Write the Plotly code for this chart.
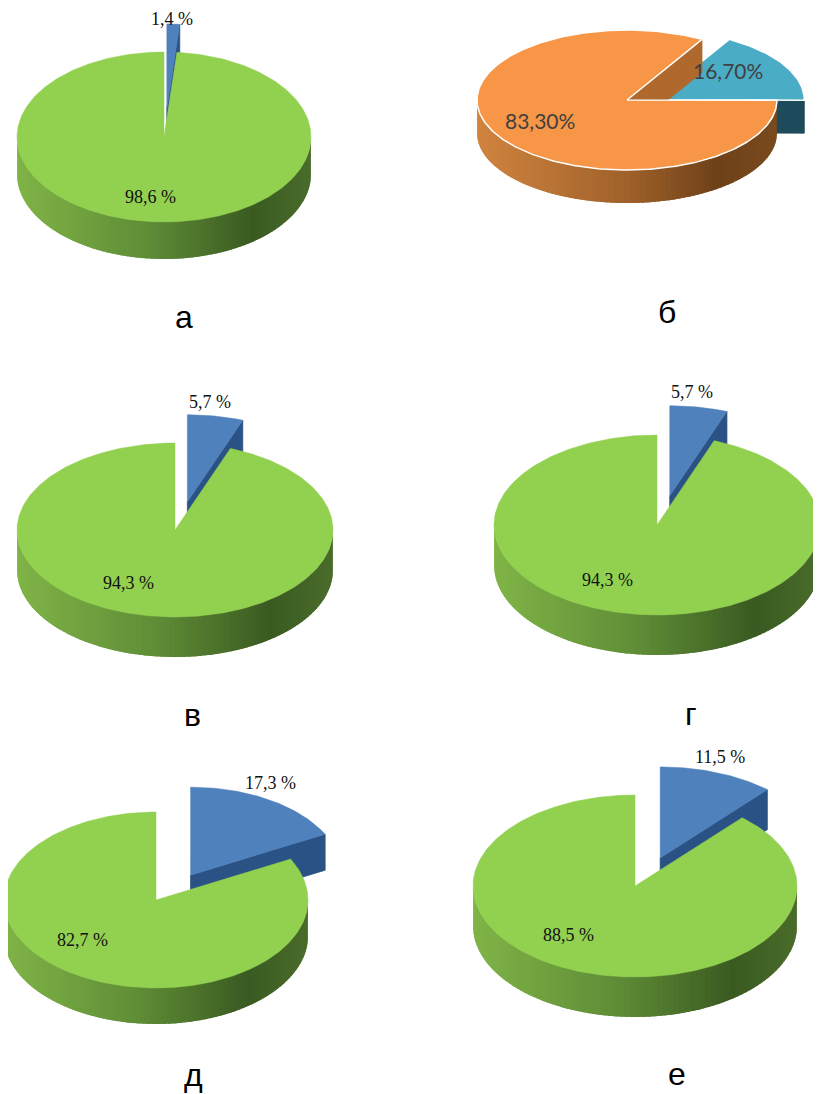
import numpy as np
import plotly.graph_objects as go

# Data: share of the small (exploded) and large slice for every panel
PANELS = ['а', 'б', 'в', 'г', 'д', 'е']
SMALL_SHARE = [1.4, 16.7, 5.7, 5.7, 17.3, 11.5]
LARGE_SHARE = [98.6, 83.3, 94.3, 94.3, 82.7, 88.5]

# Geometry of each 3D pie in page pixels (layout only)
GEOM = {
    'а': dict(cx=164, cy=137, rx=147, ry=85, depth=37, pull=(0.44, 0.33), start=0,
              small_lbl=(8, -118), large_lbl=(-14, 60), caption=(184, 317)),
    'б': dict(cx=627, cy=100, rx=150, ry=70, depth=33, pull=(0.21, 0.0), start=30,
              small_lbl=(101, -30), large_lbl=(-87, 20), caption=(667, 312)),
    'в': dict(cx=175, cy=530, rx=158, ry=87, depth=40, pull=(0.44, 0.33), start=0,
              small_lbl=(35, -128), large_lbl=(-47, 53), caption=(192, 715)),
    'г': dict(cx=657, cy=525, rx=163, ry=90, depth=40, pull=(0.44, 0.33), start=0,
              small_lbl=(35, -133), large_lbl=(-50, 55), caption=(691, 714)),
    'д': dict(cx=156, cy=900, rx=152, ry=88, depth=36, pull=(0.44, 0.33), start=0,
              small_lbl=(114, -117), large_lbl=(-74, 40), caption=(193, 1075)),
    'е': dict(cx=635, cy=886, rx=162, ry=91, depth=40, pull=(0.44, 0.33), start=0,
              small_lbl=(85, -129), large_lbl=(-67, 49), caption=(677, 1074)),
}

GREEN = dict(top='#92D050', face='#4E7A2C', outline=None,
             side=[(0.0, '#80B447'), (0.45, '#5E8C36'), (0.8, '#3A5A21'), (1.0, '#4A6C2B')])
BLUE = dict(top='#4F81BD', face='#2A5285', outline=None,
            side=[(0.0, '#3E6A9E'), (0.6, '#2B4F7C'), (1.0, '#243F65')])
ORANGE = dict(top='#F79646', face='#B0692C', outline='white',
              side=[(0.0, '#D0843F'), (0.5, '#A0612A'), (0.8, '#6E4119'), (1.0, '#7A4A1E')])
TEAL = dict(top='#4BACC6', face='#1E4B5B', outline='white',
            side=[(0.0, '#2F7A8E'), (1.0, '#1E4B5B')])

# the page body has an 8px margin, so the figure starts at (8, 8) in the window
PAGE_OFF = 8
WIN_W, WIN_H = 821, 1094


def hex_rgb(c):
    c = c.lstrip('#')
    return [int(c[i:i + 2], 16) for i in (0, 2, 4)]


def grad(stops, t):
    ts = [s[0] for s in stops]
    cols = np.array([hex_rgb(s[1]) for s in stops])
    rgb = [int(round(np.interp(t, ts, cols[:, k]))) for k in range(3)]
    return 'rgb(%d,%d,%d)' % tuple(rgb)


def rim(g, ang, dx, dy):
    a = np.radians(ang)
    return g['cx'] + dx + g['rx'] * np.sin(a), g['cy'] + dy - g['ry'] * np.cos(a)


def add_poly(fig, xs, ys, color, line_color=None, lw=0):
    fig.add_trace(go.Scatter(
        x=list(xs) + [xs[0]], y=list(ys) + [ys[0]], fill='toself', fillcolor=color,
        mode='lines', line=dict(color=line_color or color, width=lw),
        hoverinfo='skip', showlegend=False))


def draw_slice(fig, g, a0, a1, pull, style):
    m = np.radians((a0 + a1) / 2)
    dx = pull[0] * g['rx'] * np.sin(m)
    dy = -pull[1] * g['ry'] * np.cos(m)
    ax, ay = g['cx'] + dx, g['cy'] + dy
    d = g['depth']

    # outer wall, only the part facing the viewer (90..270 deg)
    for n in range(-1, 3):
        s, e = max(a0, 90 + 360 * n), min(a1, 270 + 360 * n)
        if e <= s:
            continue
        steps = max(2, int((e - s) / 2.0))
        ts = np.linspace(s, e, steps + 1)
        step = ts[1] - ts[0]
        for t0, t1 in zip(ts[:-1], ts[1:]):
            # overlap into the next strip so no seams show
            t1x = min(t1 + step * 0.8, e)
            x0, y0 = rim(g, t0, dx, dy)
            x1, y1 = rim(g, t1x, dx, dy)
            xm, _ = rim(g, (t0 + t1) / 2, dx, dy)
            frac = (xm - (g['cx'] - g['rx'])) / (2 * g['rx'])
            col = grad(style['side'], frac)
            add_poly(fig, [x0, x1, x1, x0], [y0 - 0.5, y1 - 0.5, y1 + d, y0 + d], col)

    # radial cut faces that turn towards the viewer
    for ang, visible in ((a0, np.sin(np.radians(a0)) < -1e-6), (a1, np.sin(np.radians(a1)) > 1e-6)):
        if visible:
            rx_, ry_ = rim(g, ang, dx, dy)
            add_poly(fig, [ax, rx_, rx_, ax], [ay, ry_, ry_ + d, ay + d], style['face'], lw=0.8)

    # top face
    ts = np.linspace(a0, a1, int(a1 - a0) + 2)
    xs, ys = rim(g, ts, dx, dy)
    if style['outline']:
        add_poly(fig, [ax] + list(xs), [ay] + list(ys), style['top'], style['outline'], 1.5)
    else:
        add_poly(fig, [ax] + list(xs), [ay] + list(ys), style['top'], lw=0.5)


fig = go.Figure()
annotations = []

for i, p in enumerate(PANELS):
    g = GEOM[p]
    small, large = SMALL_SHARE[i], LARGE_SHARE[i]
    total = small + large
    a_mid = g['start'] + 360 * small / total
    a_end = g['start'] + 360
    if p == 'б':
        s_style, l_style = TEAL, ORANGE
        fnt = dict(family='Lato, Open Sans, sans-serif', size=21, color='#404040')
        s_txt = ('%.2f%%' % small).replace('.', ',')
        l_txt = ('%.2f%%' % large).replace('.', ',')
    else:
        s_style, l_style = BLUE, GREEN
        fnt = dict(family='Liberation Serif, Times New Roman, serif', size=18, color='#111111')
        s_txt = ('%.1f %%' % small).replace('.', ',')
        l_txt = ('%.1f %%' % large).replace('.', ',')

    # exploded slice sits behind, so it goes first
    draw_slice(fig, g, g['start'], a_mid, g['pull'], s_style)
    draw_slice(fig, g, a_mid, a_end, (0, 0), l_style)

    for txt, off in ((s_txt, g['small_lbl']), (l_txt, g['large_lbl'])):
        annotations.append(dict(x=g['cx'] + off[0], y=g['cy'] + off[1], text=txt,
                                showarrow=False, font=fnt, xref='x', yref='y'))
    annotations.append(dict(x=g['caption'][0], y=g['caption'][1], text=p, showarrow=False,
                            font=dict(family='Liberation Sans, Arial, sans-serif', size=32,
                                      color='black'),
                            xref='x', yref='y'))

fig.update_xaxes(range=[PAGE_OFF, WIN_W], visible=False, fixedrange=True)
fig.update_yaxes(range=[WIN_H, PAGE_OFF], visible=False, fixedrange=True)
fig.update_layout(width=WIN_W - PAGE_OFF, height=WIN_H - PAGE_OFF,
                  margin=dict(l=0, r=0, t=0, b=0),
                  plot_bgcolor='white', paper_bgcolor='white',
                  annotations=annotations, showlegend=False)

fig.write_html("out.html")
